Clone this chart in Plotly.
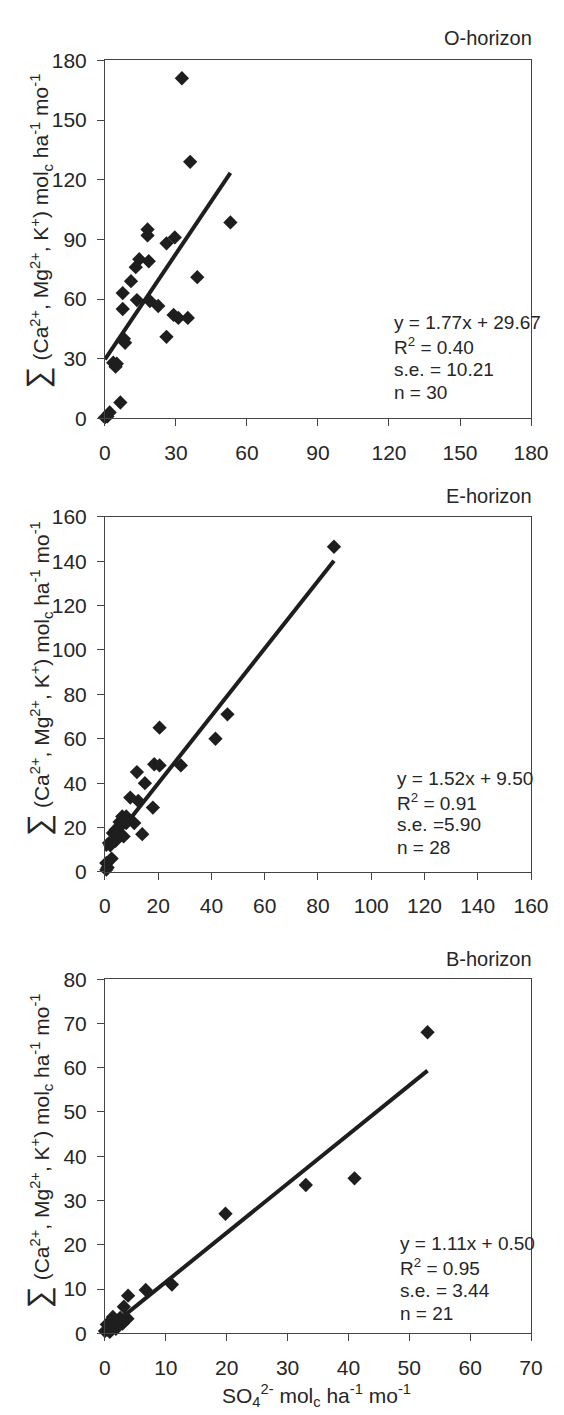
import plotly.graph_objects as go
import numpy as np

# ---------------- data ----------------
panel_names = ["O-horizon", "E-horizon", "B-horizon"]

o_x = [32.5, 36, 53, 18, 18, 29.5, 26, 14.5, 18.5, 13, 11, 39, 7.5, 13.5, 19,
       22.5, 7.5, 29, 31, 35, 26, 8, 8.5, 5, 4.5, 3.5, 6.5, 2, 0, 1]
o_y = [171, 129, 98.5, 95, 92, 91, 88, 80, 79, 76, 69, 71, 63, 59.5, 59,
       56.5, 55, 52, 50.5, 50.5, 41, 40, 38, 27.5, 26, 28, 8, 3, 0.5, 1]

e_x = [86, 46, 41.5, 20.5, 28.5, 18.5, 20.5, 12, 15, 9.5, 12.5, 18, 6.5, 5.5,
       11, 8, 14, 7, 3, 4, 2, 2.5, 0.5, 1, 0.5, 8, 4, 1.5]
e_y = [146.5, 71, 60, 65, 48, 48.5, 48, 45, 40, 33.5, 32, 29, 25, 22.5,
       22, 22, 17, 16, 17.5, 14, 12, 6, 4, 2, 1, 25, 19, 13]

b_x = [53, 41, 33, 19.8, 11, 6.7, 3.8, 3.1, 3.7, 2.9, 1.3, 0.5, 0, 1, 2, 1.5,
       0.8, 2.5, 0.3, 2, 1.8]
b_y = [68, 35, 33.5, 27, 11, 9.8, 8.5, 6, 3.3, 2.2, 3.7, 1, 0.5, 2, 1.5, 3,
       0.3, 3.5, 2, 2.5, 1]

slopes = [1.77, 1.52, 1.11]
intercepts = [29.67, 9.50, 0.50]
fit_x_end = [53, 86, 53]

x_max = [180, 160, 70]
x_step = [30, 20, 10]
y_max = [180, 160, 80]
y_step = [30, 20, 10]

stat_lines = [
    ["y = 1.77x + 29.67", "R<sup>2</sup> = 0.40", "s.e. = 10.21", "n = 30"],
    ["y = 1.52x + 9.50", "R<sup>2</sup> = 0.91", "s.e. =5.90", "n = 28"],
    ["y = 1.11x + 0.50", "R<sup>2</sup> = 0.95", "s.e. = 3.44", "n = 21"],
]

xs = [o_x, e_x, b_x]
ys = [o_y, e_y, b_y]

# ---------------- layout geometry (pixels) ----------------
W, H = 564, 1415
LEFT, RIGHT = 95, 540
tops = [41, 505, 975]
bottoms = [405, 866, 1335]
title_y = [18, 484, 955]
ytitle_center = [214, 669, 1149]
stat_top = [308, 771, 1244]
stat_left = [395, 398, 401]
stat_gap = 23.5

FONT = "Arial, 'Liberation Sans', Helvetica, sans-serif"
INK = "#1e1e1e"
TXT = "#262626"


def px(x):
    return x / W


def py(y):
    return 1 - y / H


fig = go.Figure()
layout = dict(
    width=W, height=H,
    margin=dict(l=0, r=0, t=0, b=0),
    paper_bgcolor="white", plot_bgcolor="white",
    showlegend=False,
    font=dict(family=FONT, color=TXT, size=19),
)
annotations = []

for i in range(3):
    n = i + 1
    xa = "x" if n == 1 else f"x{n}"
    ya = "y" if n == 1 else f"y{n}"
    xkey = "xaxis" if n == 1 else f"xaxis{n}"
    ykey = "yaxis" if n == 1 else f"yaxis{n}"

    fx = np.array([0, fit_x_end[i]], dtype=float)
    fy = slopes[i] * fx + intercepts[i]
    fig.add_trace(go.Scatter(x=fx, y=fy, mode="lines",
                             line=dict(color=INK, width=4),
                             xaxis=xa, yaxis=ya, hoverinfo="skip"))
    fig.add_trace(go.Scatter(x=xs[i], y=ys[i], mode="markers",
                             marker=dict(symbol="diamond", size=11, color=INK,
                                         line=dict(width=0)),
                             xaxis=xa, yaxis=ya, cliponaxis=False))

    common = dict(showgrid=False, zeroline=False, linecolor="#444",
                  linewidth=1, ticks="outside", ticklen=7, tickwidth=1,
                  tickcolor="#444", tickfont=dict(size=21, color=TXT, family=FONT))
    layout[xkey] = dict(common, domain=[px(LEFT), px(RIGHT)], anchor=ya,
                        range=[0, x_max[i]], tick0=0, dtick=x_step[i],
                        mirror=True, ticklabelstandoff=8)
    layout[ykey] = dict(common, domain=[py(bottoms[i]), py(tops[i])], anchor=xa,
                        range=[0, y_max[i]], tick0=0, dtick=y_step[i],
                        mirror=True, ticklabelstandoff=6)

    # overlay axes for the inner half of the crossing ticks
    ox = f"xaxis{n + 3}"
    oy = f"yaxis{n + 3}"
    inner = dict(showgrid=False, zeroline=False, showline=False,
                 showticklabels=False, ticks="inside", ticklen=7,
                 tickwidth=1, tickcolor="#444")
    layout[ox] = dict(inner, overlaying=xa, anchor=ya, range=[0, x_max[i]],
                      tick0=0, dtick=x_step[i], side="bottom")
    layout[oy] = dict(inner, overlaying=ya, anchor=xa, range=[0, y_max[i]],
                      tick0=0, dtick=y_step[i], side="left")

    # panel title
    annotations.append(dict(text=panel_names[i], x=px(RIGHT + 3), y=py(title_y[i]),
                            xref="paper", yref="paper", xanchor="right",
                            yanchor="middle", showarrow=False,
                            font=dict(size=20, color=TXT, family=FONT)))
    # stats
    for k, line in enumerate(stat_lines[i]):
        annotations.append(dict(text=line, x=px(stat_left[i]),
                                y=py(stat_top[i] + k * stat_gap),
                                xref="paper", yref="paper", xanchor="left",
                                yanchor="middle", showarrow=False,
                                font=dict(size=19, color=TXT, family=FONT)))
    # y-axis title
    annotations.append(dict(
        text='<span style="font-size:31px">∑</span> (Ca<sup>2+</sup>, Mg<sup>2+</sup>, '
             'K<sup>+</sup>) mol<sub>c</sub> ha<sup>-1</sup> mo<sup>-1</sup>',
        x=px(25), y=py(ytitle_center[i]), xref="paper", yref="paper",
        xanchor="center", yanchor="middle", textangle=-90, showarrow=False,
        font=dict(size=21, color=TXT, family=FONT)))

# x-axis title (bottom panel)
annotations.append(dict(
    text="SO<sub>4</sub><sup>2-</sup> mol<sub>c</sub> ha<sup>-1</sup> mo<sup>-1</sup>",
    x=px(316), y=py(1398), xref="paper", yref="paper", xanchor="center",
    yanchor="middle", showarrow=False, font=dict(size=21, color=TXT, family=FONT)))

layout["annotations"] = annotations
fig.update_layout(**layout)
fig.write_html("out.html")
